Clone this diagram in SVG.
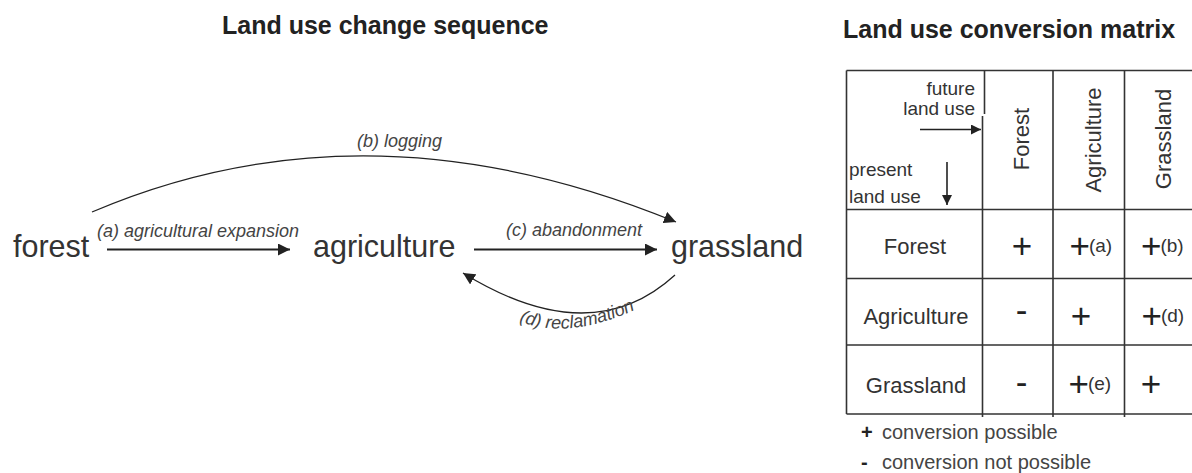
<svg xmlns="http://www.w3.org/2000/svg" width="1192" height="473" viewBox="0 0 1192 473">
<style>
text{font-family:"Liberation Sans",Arial,Helvetica,sans-serif;}
.title{font-size:25px;font-weight:bold;fill:#222}
.node{font-size:30.5px;fill:#333}
.lbl{font-size:18px;font-style:italic;fill:#444}
.cell{font-size:22px;fill:#333}
.sym{font-size:35px;fill:#222}
.sm{font-size:19px;fill:#333}
.hd{font-size:19px;fill:#333}
.leg{font-size:20px;fill:#444}
.grid{stroke:#333;stroke-width:1.6;fill:none}
.conn{stroke:#222;fill:none}
</style>
<defs>
<marker id="ah" viewBox="0 0 12 12" refX="12" refY="6" markerWidth="12" markerHeight="12" markerUnits="userSpaceOnUse" orient="auto">
<path d="M0,0 L12,6 L0,12 z" fill="#222"/>
</marker>
<marker id="ahs" viewBox="0 0 12 12" refX="12" refY="6" markerWidth="10" markerHeight="10" markerUnits="userSpaceOnUse" orient="auto">
<path d="M0,0 L12,6 L0,12 z" fill="#222"/>
</marker>
<path id="dpath" d="M519,321 Q570,342 645,305"/>
</defs>

<text class="title" x="222" y="34">Land use change sequence</text>
<text class="title" x="843" y="38">Land use conversion matrix</text>

<g id="forest"><text class="node" x="13" y="257">forest</text></g>
<g id="agriculture"><text class="node" x="313" y="257">agriculture</text></g>
<g id="grassland"><text class="node" x="671" y="257">grassland</text></g>

<g id="connectors">
<path class="conn" stroke-width="1.8" d="M107,249.5 H290" marker-end="url(#ah)"/>
<text class="lbl" x="97" y="237">(a) agricultural expansion</text>
<path class="conn" stroke-width="1.8" d="M474,249.5 H657" marker-end="url(#ah)"/>
<text class="lbl" x="506" y="236">(c) abandonment</text>
<path class="conn" stroke-width="1.3" d="M92,212 Q366,95 676,222" marker-end="url(#ah)"/>
<text class="lbl" x="357" y="147">(b) logging</text>
<path class="conn" stroke-width="1.3" d="M675,275 Q591,352 463,273" marker-end="url(#ah)"/>
<text class="lbl"><textPath href="#dpath">(d) reclamation</textPath></text>
</g>

<g id="matrix">
<path class="grid" d="M846.5,70.5 H1195 M846.5,70.5 V414 M846.5,209.5 H1195 M846.5,278.5 H1195 M846.5,345 H1195 M846.5,414 H1195"/>
<path class="grid" d="M984.5,70.5 V114 M982.5,116 V417 M1053,70.5 V417 M1124.5,70.5 V417"/>

<text class="hd" x="975" y="95" text-anchor="end">future</text>
<text class="hd" x="975" y="114.5" text-anchor="end">land use</text>
<path class="conn" stroke-width="1.6" d="M920,129.5 H981" marker-end="url(#ahs)"/>
<text class="hd" x="849" y="176">present</text>
<text class="hd" x="849" y="203">land use</text>
<path class="conn" stroke-width="1.6" d="M947,162 V205" marker-end="url(#ahs)"/>

<text class="cell" transform="translate(1029,139) rotate(-90)" text-anchor="middle">Forest</text>
<text class="cell" transform="translate(1101,140) rotate(-90)" text-anchor="middle">Agriculture</text>
<text class="cell" transform="translate(1171,139) rotate(-90)" text-anchor="middle">Grassland</text>

<text class="cell" x="915" y="254" text-anchor="middle">Forest</text>
<text class="cell" x="916" y="324" text-anchor="middle">Agriculture</text>
<text class="cell" x="916" y="392.5" text-anchor="middle">Grassland</text>

<text class="sym" x="1022" y="257.5" text-anchor="middle">+</text>
<text x="1069.5" y="257.5"><tspan class="sym">+</tspan><tspan class="sm" dx="-1" dy="-6">(a)</tspan></text>
<text x="1141" y="257.5"><tspan class="sym">+</tspan><tspan class="sm" dx="-1" dy="-6">(b)</tspan></text>

<text class="sym" x="1021.5" y="322" text-anchor="middle">-</text>
<text class="sym" x="1081" y="327.5" text-anchor="middle">+</text>
<text x="1141.5" y="327.5"><tspan class="sym">+</tspan><tspan class="sm" dx="-1" dy="-6">(d)</tspan></text>

<text class="sym" x="1021.5" y="393.5" text-anchor="middle">-</text>
<text x="1068.5" y="396"><tspan class="sym">+</tspan><tspan class="sm" dx="-1" dy="-6.5">(e)</tspan></text>
<text class="sym" x="1151" y="396" text-anchor="middle">+</text>

<text class="leg" x="861" y="438.5"><tspan font-weight="bold" fill="#222">+</tspan><tspan x="882">conversion possible</tspan></text>
<text class="leg" x="861" y="468.5"><tspan font-weight="bold" fill="#222">-</tspan><tspan x="882">conversion not possible</tspan></text>
</g>
</svg>
